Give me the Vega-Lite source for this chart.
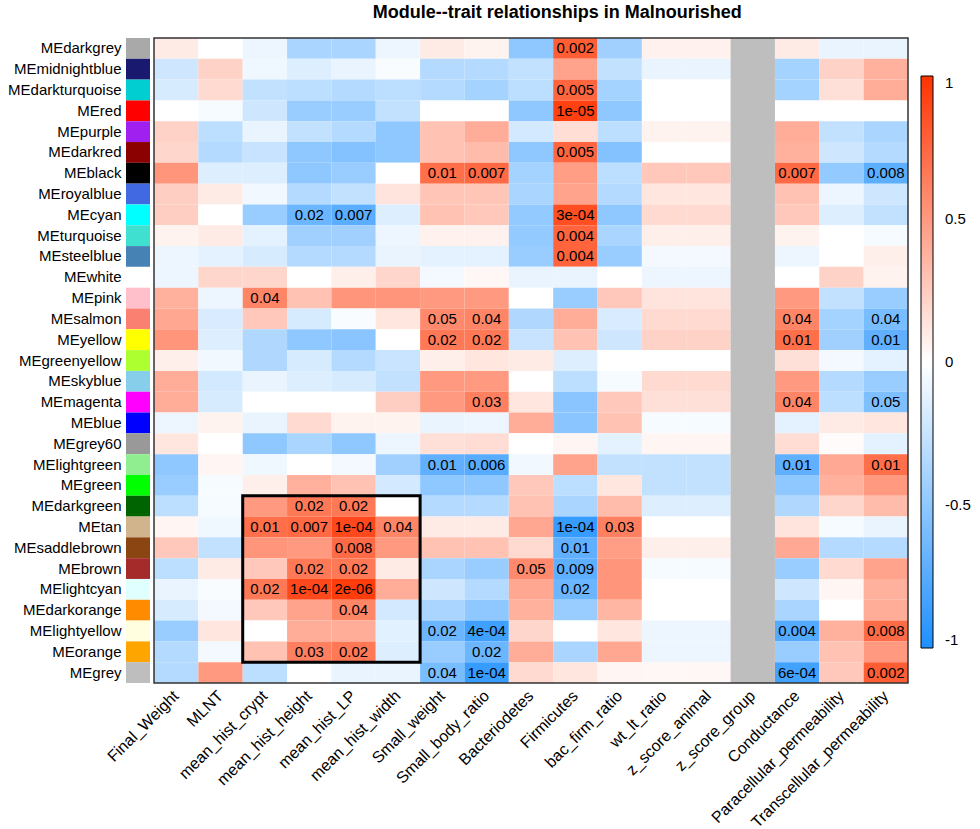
{
  "$schema": "https://vega.github.io/schema/vega-lite/v6.json",
  "padding": {"left": 7, "top": 4, "right": 5, "bottom": 5},
  "bounds": "flush",
  "title": {"text": "Module--trait relationships in Malnourished", "fontSize": 18, "fontWeight": "bold", "anchor": "middle", "offset": 15, "dx": 68, "color": "black", "font": "Liberation Sans"},
  "config": {"font": "Liberation Sans", "view": {"stroke": null}},
  "datasets": {
    "mat": [
      {"m":"MEdarkgrey","Final_Weight":0.1,"MLNT":0,"mean_hist_crypt":-0.08,"mean_hist_height":-0.38,"mean_hist_LP":-0.38,"mean_hist_width":-0.08,"Small_weight":0.1,"Small_body_ratio":0.06,"Bacteriodetes":-0.5,"Firmicutes":0.795,"bac_firm_ratio":-0.42,"wt_lt_ratio":0.07,"z_score_animal":0.07,"Conductance":0.1,"Paracellular_permeability":-0.1,"Transcellular_permeability":-0.1},
      {"m":"MEmidnightblue","Final_Weight":-0.22,"MLNT":0.22,"mean_hist_crypt":-0.07,"mean_hist_height":-0.15,"mean_hist_LP":-0.1,"mean_hist_width":-0.03,"Small_weight":-0.33,"Small_body_ratio":-0.33,"Bacteriodetes":-0.27,"Firmicutes":0.45,"bac_firm_ratio":-0.27,"wt_lt_ratio":-0.1,"z_score_animal":-0.1,"Conductance":-0.4,"Paracellular_permeability":0.22,"Transcellular_permeability":0.38},
      {"m":"MEdarkturquoise","Final_Weight":-0.18,"MLNT":0.18,"mean_hist_crypt":-0.27,"mean_hist_height":-0.3,"mean_hist_LP":-0.33,"mean_hist_width":-0.3,"Small_weight":-0.33,"Small_body_ratio":-0.4,"Bacteriodetes":-0.3,"Firmicutes":0.75,"bac_firm_ratio":-0.4,"wt_lt_ratio":0,"z_score_animal":0,"Conductance":-0.4,"Paracellular_permeability":0.15,"Transcellular_permeability":0.4},
      {"m":"MEred","Final_Weight":0,"MLNT":-0.04,"mean_hist_crypt":-0.22,"mean_hist_height":-0.45,"mean_hist_LP":-0.45,"mean_hist_width":-0.27,"Small_weight":0,"Small_body_ratio":0,"Bacteriodetes":-0.5,"Firmicutes":0.932,"bac_firm_ratio":-0.5,"wt_lt_ratio":0,"z_score_animal":0,"Conductance":0,"Paracellular_permeability":0,"Transcellular_permeability":0},
      {"m":"MEpurple","Final_Weight":0.22,"MLNT":-0.3,"mean_hist_crypt":-0.1,"mean_hist_height":-0.27,"mean_hist_LP":-0.33,"mean_hist_width":-0.5,"Small_weight":0.3,"Small_body_ratio":0.4,"Bacteriodetes":-0.2,"Firmicutes":0.16,"bac_firm_ratio":-0.3,"wt_lt_ratio":0.06,"z_score_animal":0.06,"Conductance":0.4,"Paracellular_permeability":-0.27,"Transcellular_permeability":-0.38},
      {"m":"MEdarkred","Final_Weight":0.2,"MLNT":-0.33,"mean_hist_crypt":-0.25,"mean_hist_height":-0.5,"mean_hist_LP":-0.55,"mean_hist_width":-0.5,"Small_weight":0.3,"Small_body_ratio":0.33,"Bacteriodetes":-0.5,"Firmicutes":0.75,"bac_firm_ratio":-0.55,"wt_lt_ratio":0,"z_score_animal":0,"Conductance":0.38,"Paracellular_permeability":-0.22,"Transcellular_permeability":-0.33},
      {"m":"MEblack","Final_Weight":0.52,"MLNT":-0.15,"mean_hist_crypt":-0.15,"mean_hist_height":-0.5,"mean_hist_LP":-0.45,"mean_hist_width":0,"Small_weight":0.708,"Small_body_ratio":0.735,"Bacteriodetes":-0.4,"Firmicutes":0.48,"bac_firm_ratio":-0.3,"wt_lt_ratio":0.27,"z_score_animal":0.27,"Conductance":0.735,"Paracellular_permeability":-0.48,"Transcellular_permeability":-0.725},
      {"m":"MEroyalblue","Final_Weight":0.24,"MLNT":0.1,"mean_hist_crypt":-0.06,"mean_hist_height":-0.33,"mean_hist_LP":-0.27,"mean_hist_width":0.13,"Small_weight":0.28,"Small_body_ratio":0.28,"Bacteriodetes":-0.38,"Firmicutes":0.45,"bac_firm_ratio":-0.33,"wt_lt_ratio":0.12,"z_score_animal":0.12,"Conductance":0.3,"Paracellular_permeability":-0.08,"Transcellular_permeability":-0.22},
      {"m":"MEcyan","Final_Weight":0.24,"MLNT":0,"mean_hist_crypt":-0.45,"mean_hist_height":-0.658,"mean_hist_LP":-0.735,"mean_hist_width":-0.15,"Small_weight":0.3,"Small_body_ratio":0.27,"Bacteriodetes":-0.48,"Firmicutes":0.863,"bac_firm_ratio":-0.5,"wt_lt_ratio":0.18,"z_score_animal":0.18,"Conductance":0.27,"Paracellular_permeability":-0.15,"Transcellular_permeability":-0.27},
      {"m":"MEturquoise","Final_Weight":0.06,"MLNT":0.1,"mean_hist_crypt":-0.12,"mean_hist_height":-0.42,"mean_hist_LP":-0.42,"mean_hist_width":-0.08,"Small_weight":0.07,"Small_body_ratio":0.07,"Bacteriodetes":-0.48,"Firmicutes":0.762,"bac_firm_ratio":-0.38,"wt_lt_ratio":0.08,"z_score_animal":0.08,"Conductance":0.06,"Paracellular_permeability":0,"Transcellular_permeability":-0.04},
      {"m":"MEsteelblue","Final_Weight":-0.08,"MLNT":-0.12,"mean_hist_crypt":-0.18,"mean_hist_height":-0.33,"mean_hist_LP":-0.33,"mean_hist_width":-0.1,"Small_weight":-0.12,"Small_body_ratio":-0.12,"Bacteriodetes":-0.45,"Firmicutes":0.762,"bac_firm_ratio":-0.45,"wt_lt_ratio":-0.05,"z_score_animal":-0.05,"Conductance":-0.08,"Paracellular_permeability":0,"Transcellular_permeability":0.08},
      {"m":"MEwhite","Final_Weight":-0.08,"MLNT":0.2,"mean_hist_crypt":0.2,"mean_hist_height":0,"mean_hist_LP":0.08,"mean_hist_width":0.2,"Small_weight":-0.05,"Small_body_ratio":0.04,"Bacteriodetes":-0.1,"Firmicutes":-0.1,"bac_firm_ratio":0,"wt_lt_ratio":-0.08,"z_score_animal":-0.08,"Conductance":0,"Paracellular_permeability":0.22,"Transcellular_permeability":0.06},
      {"m":"MEpink","Final_Weight":0.38,"MLNT":-0.08,"mean_hist_crypt":0.598,"mean_hist_height":0.3,"mean_hist_LP":0.52,"mean_hist_width":0.52,"Small_weight":0.5,"Small_body_ratio":0.5,"Bacteriodetes":0,"Firmicutes":-0.45,"bac_firm_ratio":0.27,"wt_lt_ratio":0.13,"z_score_animal":0.13,"Conductance":0.5,"Paracellular_permeability":-0.27,"Transcellular_permeability":-0.45},
      {"m":"MEsalmon","Final_Weight":0.43,"MLNT":-0.17,"mean_hist_crypt":0.27,"mean_hist_height":-0.18,"mean_hist_LP":-0.03,"mean_hist_width":0.12,"Small_weight":0.576,"Small_body_ratio":0.598,"Bacteriodetes":-0.35,"Firmicutes":0.4,"bac_firm_ratio":-0.17,"wt_lt_ratio":0.18,"z_score_animal":0.18,"Conductance":0.598,"Paracellular_permeability":-0.4,"Transcellular_permeability":-0.598},
      {"m":"MEyellow","Final_Weight":0.52,"MLNT":-0.15,"mean_hist_crypt":-0.35,"mean_hist_height":-0.5,"mean_hist_LP":-0.52,"mean_hist_width":0,"Small_weight":0.658,"Small_body_ratio":0.658,"Bacteriodetes":-0.25,"Firmicutes":0.3,"bac_firm_ratio":-0.22,"wt_lt_ratio":0.22,"z_score_animal":0.22,"Conductance":0.708,"Paracellular_permeability":-0.42,"Transcellular_permeability":-0.708},
      {"m":"MEgreenyellow","Final_Weight":0.08,"MLNT":-0.06,"mean_hist_crypt":-0.35,"mean_hist_height":-0.18,"mean_hist_LP":-0.33,"mean_hist_width":-0.24,"Small_weight":0.08,"Small_body_ratio":0.12,"Bacteriodetes":0.1,"Firmicutes":-0.15,"bac_firm_ratio":0,"wt_lt_ratio":0,"z_score_animal":0,"Conductance":0.15,"Paracellular_permeability":-0.05,"Transcellular_permeability":-0.12},
      {"m":"MEskyblue","Final_Weight":0.4,"MLNT":-0.2,"mean_hist_crypt":-0.1,"mean_hist_height":-0.15,"mean_hist_LP":-0.18,"mean_hist_width":-0.27,"Small_weight":0.5,"Small_body_ratio":0.5,"Bacteriodetes":0,"Firmicutes":-0.3,"bac_firm_ratio":-0.04,"wt_lt_ratio":0.18,"z_score_animal":0.18,"Conductance":0.5,"Paracellular_permeability":-0.33,"Transcellular_permeability":-0.45},
      {"m":"MEmagenta","Final_Weight":0.4,"MLNT":-0.18,"mean_hist_crypt":0,"mean_hist_height":0,"mean_hist_LP":0,"mean_hist_width":0.24,"Small_weight":0.5,"Small_body_ratio":0.624,"Bacteriodetes":0.12,"Firmicutes":-0.52,"bac_firm_ratio":0.27,"wt_lt_ratio":0.15,"z_score_animal":0.15,"Conductance":0.598,"Paracellular_permeability":-0.3,"Transcellular_permeability":-0.576},
      {"m":"MEblue","Final_Weight":-0.08,"MLNT":0.06,"mean_hist_crypt":-0.1,"mean_hist_height":0.18,"mean_hist_LP":0.06,"mean_hist_width":0.06,"Small_weight":-0.1,"Small_body_ratio":-0.08,"Bacteriodetes":0.4,"Firmicutes":-0.52,"bac_firm_ratio":0.3,"wt_lt_ratio":-0.04,"z_score_animal":-0.04,"Conductance":-0.12,"Paracellular_permeability":0.1,"Transcellular_permeability":0.12},
      {"m":"MEgrey60","Final_Weight":0.12,"MLNT":0,"mean_hist_crypt":-0.5,"mean_hist_height":-0.38,"mean_hist_LP":-0.5,"mean_hist_width":-0.08,"Small_weight":0.15,"Small_body_ratio":0.17,"Bacteriodetes":0,"Firmicutes":0.05,"bac_firm_ratio":-0.12,"wt_lt_ratio":0.05,"z_score_animal":0.05,"Conductance":0.17,"Paracellular_permeability":0.02,"Transcellular_permeability":-0.12},
      {"m":"MElightgreen","Final_Weight":-0.5,"MLNT":0.05,"mean_hist_crypt":-0.07,"mean_hist_height":0,"mean_hist_LP":-0.05,"mean_hist_width":-0.42,"Small_weight":-0.708,"Small_body_ratio":-0.746,"Bacteriodetes":-0.06,"Firmicutes":0.45,"bac_firm_ratio":-0.27,"wt_lt_ratio":-0.27,"z_score_animal":-0.27,"Conductance":-0.708,"Paracellular_permeability":0.42,"Transcellular_permeability":0.708},
      {"m":"MEgreen","Final_Weight":-0.45,"MLNT":-0.04,"mean_hist_crypt":0.08,"mean_hist_height":0.38,"mean_hist_LP":0.3,"mean_hist_width":-0.2,"Small_weight":-0.5,"Small_body_ratio":-0.5,"Bacteriodetes":0.27,"Firmicutes":-0.3,"bac_firm_ratio":0.12,"wt_lt_ratio":-0.27,"z_score_animal":-0.27,"Conductance":-0.5,"Paracellular_permeability":0.38,"Transcellular_permeability":0.5},
      {"m":"MEdarkgreen","Final_Weight":-0.3,"MLNT":-0.04,"mean_hist_crypt":0.5,"mean_hist_height":0.658,"mean_hist_LP":0.658,"mean_hist_width":0,"Small_weight":-0.33,"Small_body_ratio":-0.33,"Bacteriodetes":0.3,"Firmicutes":-0.38,"bac_firm_ratio":0.33,"wt_lt_ratio":-0.15,"z_score_animal":-0.15,"Conductance":-0.35,"Paracellular_permeability":0.2,"Transcellular_permeability":0.33},
      {"m":"MEtan","Final_Weight":0.05,"MLNT":-0.07,"mean_hist_crypt":0.708,"mean_hist_height":0.735,"mean_hist_LP":0.891,"mean_hist_width":0.598,"Small_weight":0.1,"Small_body_ratio":0.1,"Bacteriodetes":0.43,"Firmicutes":-0.891,"bac_firm_ratio":0.624,"wt_lt_ratio":0,"z_score_animal":0,"Conductance":0.13,"Paracellular_permeability":-0.04,"Transcellular_permeability":-0.1},
      {"m":"MEsaddlebrown","Final_Weight":0.27,"MLNT":-0.27,"mean_hist_crypt":0.52,"mean_hist_height":0.5,"mean_hist_LP":0.725,"mean_hist_width":0.5,"Small_weight":0.3,"Small_body_ratio":0.3,"Bacteriodetes":0.18,"Firmicutes":-0.708,"bac_firm_ratio":0.48,"wt_lt_ratio":0.08,"z_score_animal":0.08,"Conductance":0.42,"Paracellular_permeability":-0.33,"Transcellular_permeability":-0.33},
      {"m":"MEbrown","Final_Weight":-0.3,"MLNT":0.1,"mean_hist_crypt":0.27,"mean_hist_height":0.658,"mean_hist_LP":0.658,"mean_hist_width":0.1,"Small_weight":-0.38,"Small_body_ratio":-0.45,"Bacteriodetes":0.576,"Firmicutes":-0.717,"bac_firm_ratio":0.52,"wt_lt_ratio":-0.04,"z_score_animal":-0.04,"Conductance":-0.45,"Paracellular_permeability":0.18,"Transcellular_permeability":0.45},
      {"m":"MElightcyan","Final_Weight":-0.1,"MLNT":-0.03,"mean_hist_crypt":0.658,"mean_hist_height":0.891,"mean_hist_LP":0.951,"mean_hist_width":0.4,"Small_weight":-0.22,"Small_body_ratio":-0.33,"Bacteriodetes":0.43,"Firmicutes":-0.658,"bac_firm_ratio":0.52,"wt_lt_ratio":0,"z_score_animal":0,"Conductance":-0.22,"Paracellular_permeability":0.05,"Transcellular_permeability":0.38},
      {"m":"MEdarkorange","Final_Weight":-0.18,"MLNT":-0.05,"mean_hist_crypt":0.27,"mean_hist_height":0.45,"mean_hist_LP":0.598,"mean_hist_width":-0.2,"Small_weight":-0.38,"Small_body_ratio":-0.5,"Bacteriodetes":0.38,"Firmicutes":-0.45,"bac_firm_ratio":0.36,"wt_lt_ratio":0,"z_score_animal":0,"Conductance":-0.38,"Paracellular_permeability":0,"Transcellular_permeability":0.4},
      {"m":"MElightyellow","Final_Weight":-0.45,"MLNT":0.12,"mean_hist_crypt":0,"mean_hist_height":0.4,"mean_hist_LP":0.4,"mean_hist_width":-0.13,"Small_weight":-0.658,"Small_body_ratio":-0.854,"Bacteriodetes":0.2,"Firmicutes":0,"bac_firm_ratio":0.12,"wt_lt_ratio":-0.08,"z_score_animal":-0.08,"Conductance":-0.762,"Paracellular_permeability":0.38,"Transcellular_permeability":0.725},
      {"m":"MEorange","Final_Weight":-0.33,"MLNT":-0.05,"mean_hist_crypt":0.3,"mean_hist_height":0.624,"mean_hist_LP":0.658,"mean_hist_width":-0.15,"Small_weight":-0.45,"Small_body_ratio":-0.658,"Bacteriodetes":0.4,"Firmicutes":-0.38,"bac_firm_ratio":0.43,"wt_lt_ratio":-0.08,"z_score_animal":-0.08,"Conductance":-0.45,"Paracellular_permeability":0.3,"Transcellular_permeability":0.5},
      {"m":"MEgrey","Final_Weight":-0.33,"MLNT":0.5,"mean_hist_crypt":-0.3,"mean_hist_height":0,"mean_hist_LP":-0.1,"mean_hist_width":-0.1,"Small_weight":-0.598,"Small_body_ratio":-0.891,"Bacteriodetes":0.18,"Firmicutes":0.12,"bac_firm_ratio":0.05,"wt_lt_ratio":0.04,"z_score_animal":0.04,"Conductance":-0.84,"Paracellular_permeability":0.27,"Transcellular_permeability":0.795}
    ],
    "labels": [
      {"m":"MEdarkgrey","t":"Firmicutes","p":"0.002"},
      {"m":"MEdarkturquoise","t":"Firmicutes","p":"0.005"},
      {"m":"MEred","t":"Firmicutes","p":"1e-05"},
      {"m":"MEdarkred","t":"Firmicutes","p":"0.005"},
      {"m":"MEblack","t":"Small_weight","p":"0.01"},
      {"m":"MEblack","t":"Small_body_ratio","p":"0.007"},
      {"m":"MEblack","t":"Conductance","p":"0.007"},
      {"m":"MEblack","t":"Transcellular_permeability","p":"0.008"},
      {"m":"MEcyan","t":"mean_hist_height","p":"0.02"},
      {"m":"MEcyan","t":"mean_hist_LP","p":"0.007"},
      {"m":"MEcyan","t":"Firmicutes","p":"3e-04"},
      {"m":"MEturquoise","t":"Firmicutes","p":"0.004"},
      {"m":"MEsteelblue","t":"Firmicutes","p":"0.004"},
      {"m":"MEpink","t":"mean_hist_crypt","p":"0.04"},
      {"m":"MEsalmon","t":"Small_weight","p":"0.05"},
      {"m":"MEsalmon","t":"Small_body_ratio","p":"0.04"},
      {"m":"MEsalmon","t":"Conductance","p":"0.04"},
      {"m":"MEsalmon","t":"Transcellular_permeability","p":"0.04"},
      {"m":"MEyellow","t":"Small_weight","p":"0.02"},
      {"m":"MEyellow","t":"Small_body_ratio","p":"0.02"},
      {"m":"MEyellow","t":"Conductance","p":"0.01"},
      {"m":"MEyellow","t":"Transcellular_permeability","p":"0.01"},
      {"m":"MEmagenta","t":"Small_body_ratio","p":"0.03"},
      {"m":"MEmagenta","t":"Conductance","p":"0.04"},
      {"m":"MEmagenta","t":"Transcellular_permeability","p":"0.05"},
      {"m":"MElightgreen","t":"Small_weight","p":"0.01"},
      {"m":"MElightgreen","t":"Small_body_ratio","p":"0.006"},
      {"m":"MElightgreen","t":"Conductance","p":"0.01"},
      {"m":"MElightgreen","t":"Transcellular_permeability","p":"0.01"},
      {"m":"MEdarkgreen","t":"mean_hist_height","p":"0.02"},
      {"m":"MEdarkgreen","t":"mean_hist_LP","p":"0.02"},
      {"m":"MEtan","t":"mean_hist_crypt","p":"0.01"},
      {"m":"MEtan","t":"mean_hist_height","p":"0.007"},
      {"m":"MEtan","t":"mean_hist_LP","p":"1e-04"},
      {"m":"MEtan","t":"mean_hist_width","p":"0.04"},
      {"m":"MEtan","t":"Firmicutes","p":"1e-04"},
      {"m":"MEtan","t":"bac_firm_ratio","p":"0.03"},
      {"m":"MEsaddlebrown","t":"mean_hist_LP","p":"0.008"},
      {"m":"MEsaddlebrown","t":"Firmicutes","p":"0.01"},
      {"m":"MEbrown","t":"mean_hist_height","p":"0.02"},
      {"m":"MEbrown","t":"mean_hist_LP","p":"0.02"},
      {"m":"MEbrown","t":"Bacteriodetes","p":"0.05"},
      {"m":"MEbrown","t":"Firmicutes","p":"0.009"},
      {"m":"MElightcyan","t":"mean_hist_crypt","p":"0.02"},
      {"m":"MElightcyan","t":"mean_hist_height","p":"1e-04"},
      {"m":"MElightcyan","t":"mean_hist_LP","p":"2e-06"},
      {"m":"MElightcyan","t":"Firmicutes","p":"0.02"},
      {"m":"MEdarkorange","t":"mean_hist_LP","p":"0.04"},
      {"m":"MElightyellow","t":"Small_weight","p":"0.02"},
      {"m":"MElightyellow","t":"Small_body_ratio","p":"4e-04"},
      {"m":"MElightyellow","t":"Conductance","p":"0.004"},
      {"m":"MElightyellow","t":"Transcellular_permeability","p":"0.008"},
      {"m":"MEorange","t":"mean_hist_height","p":"0.03"},
      {"m":"MEorange","t":"mean_hist_LP","p":"0.02"},
      {"m":"MEorange","t":"Small_body_ratio","p":"0.02"},
      {"m":"MEgrey","t":"Small_weight","p":"0.04"},
      {"m":"MEgrey","t":"Small_body_ratio","p":"1e-04"},
      {"m":"MEgrey","t":"Conductance","p":"6e-04"},
      {"m":"MEgrey","t":"Transcellular_permeability","p":"0.002"}
    ],
    "box": [{"x1":"mean_hist_crypt","x2":"mean_hist_width","y1":"MEdarkgreen","y2":"MEorange"}]
  },
  "resolve": {"scale": {"color": "independent"}, "legend": {"color": "independent"}},
  "spacing": 4,
  "hconcat": [
    {
      "width": 24,
      "height": 645,
      "data": {"name": "mat"},
      "mark": {"type": "rect"},
      "encoding": {
        "y": {"field": "m", "type": "nominal", "sort": null,
          "scale": {"domain": ["MEdarkgrey","MEmidnightblue","MEdarkturquoise","MEred","MEpurple","MEdarkred","MEblack","MEroyalblue","MEcyan","MEturquoise","MEsteelblue","MEwhite","MEpink","MEsalmon","MEyellow","MEgreenyellow","MEskyblue","MEmagenta","MEblue","MEgrey60","MElightgreen","MEgreen","MEdarkgreen","MEtan","MEsaddlebrown","MEbrown","MElightcyan","MEdarkorange","MElightyellow","MEorange","MEgrey"], "paddingInner": 0, "paddingOuter": 0},
          "axis": {"title": null, "ticks": false, "domain": false, "labelFontSize": 15, "labelPadding": 5, "labelColor": "black", "labelLimit": 0}},
        "color": {"field": "m", "type": "nominal", "legend": null,
          "scale": {"domain": ["MEdarkgrey","MEmidnightblue","MEdarkturquoise","MEred","MEpurple","MEdarkred","MEblack","MEroyalblue","MEcyan","MEturquoise","MEsteelblue","MEwhite","MEpink","MEsalmon","MEyellow","MEgreenyellow","MEskyblue","MEmagenta","MEblue","MEgrey60","MElightgreen","MEgreen","MEdarkgreen","MEtan","MEsaddlebrown","MEbrown","MElightcyan","MEdarkorange","MElightyellow","MEorange","MEgrey"],
            "range": ["#A9A9A9","#191970","#00CED1","#FF0000","#A020F0","#8B0000","#000000","#4169E1","#00FFFF","#40E0D0","#4682B4","#FFFFFF","#FFC0CB","#FA8072","#FFFF00","#ADFF2F","#87CEEB","#FF00FF","#0000FF","#999999","#90EE90","#00FF00","#006400","#D2B48C","#8B4513","#A52A2A","#E0FFFF","#FF8C00","#FFFFE0","#FFA500","#BEBEBE"]}}
      }
    },
    {
      "width": 754,
      "height": 645,
      "layer": [
        {
          "data": {"name": "mat"},
          "transform": [
            {"fold": ["Final_Weight","MLNT","mean_hist_crypt","mean_hist_height","mean_hist_LP","mean_hist_width","Small_weight","Small_body_ratio","Bacteriodetes","Firmicutes","bac_firm_ratio","wt_lt_ratio","z_score_animal","Conductance","Paracellular_permeability","Transcellular_permeability"], "as": ["t", "v"]}
          ],
          "mark": {"type": "rect"},
          "encoding": {
            "x": {"field": "t", "type": "nominal", "sort": null,
              "scale": {"domain": ["Final_Weight","MLNT","mean_hist_crypt","mean_hist_height","mean_hist_LP","mean_hist_width","Small_weight","Small_body_ratio","Bacteriodetes","Firmicutes","bac_firm_ratio","wt_lt_ratio","z_score_animal","z_score_group","Conductance","Paracellular_permeability","Transcellular_permeability"], "paddingInner": 0, "paddingOuter": 0},
              "axis": {"orient": "bottom", "title": null, "ticks": false, "domain": false, "labelAngle": -45, "labelAlign": "right", "labelBaseline": "middle", "labelFontSize": 16, "labelPadding": 10, "labelColor": "black", "labelLimit": 0}},
            "y": {"field": "m", "type": "nominal", "sort": null,
              "scale": {"domain": ["MEdarkgrey","MEmidnightblue","MEdarkturquoise","MEred","MEpurple","MEdarkred","MEblack","MEroyalblue","MEcyan","MEturquoise","MEsteelblue","MEwhite","MEpink","MEsalmon","MEyellow","MEgreenyellow","MEskyblue","MEmagenta","MEblue","MEgrey60","MElightgreen","MEgreen","MEdarkgreen","MEtan","MEsaddlebrown","MEbrown","MElightcyan","MEdarkorange","MElightyellow","MEorange","MEgrey"], "paddingInner": 0, "paddingOuter": 0},
              "axis": null},
            "color": {"field": "v", "type": "quantitative",
              "scale": {"domain": [-1, 0, 1], "range": ["#1E90FF", "#FFFFFF", "#FF3300"], "interpolate": "rgb"},
              "legend": {"orient": "none", "legendX": 767, "legendY": 38, "direction": "vertical", "gradientLength": 572, "gradientThickness": 12, "title": null, "values": [-1, -0.5, 0, 0.5, 1], "labelExpr": "'' + datum.value", "labelFontSize": 15, "labelColor": "black", "labelOffset": 12, "labelBaseline": "middle", "gradientStrokeColor": "black", "gradientStrokeWidth": 1, "padding": 0}}
          }
        },
        {
          "data": {"values": [{}]},
          "mark": {"type": "rect", "color": "#BEBEBE"},
          "encoding": {"x": {"datum": "z_score_group", "type": "nominal"}}
        },
        {
          "data": {"name": "labels"},
          "mark": {"type": "text", "fontSize": 15, "color": "black"},
          "encoding": {
            "x": {"field": "t", "type": "nominal"},
            "y": {"field": "m", "type": "nominal", "axis": null},
            "text": {"field": "p", "type": "nominal"}
          }
        },
        {
          "data": {"name": "box"},
          "mark": {"type": "rect", "fill": null, "stroke": "black", "strokeWidth": 3},
          "encoding": {
            "x": {"field": "x1", "type": "nominal", "bandPosition": 0},
            "x2": {"field": "x2", "bandPosition": 1},
            "y": {"field": "y1", "type": "nominal", "bandPosition": 0, "axis": null},
            "y2": {"field": "y2", "bandPosition": 1}
          }
        },
        {
          "data": {"values": [{}]},
          "mark": {"type": "rect", "fill": null, "stroke": "#333333", "strokeWidth": 1.5},
          "encoding": {}
        }
      ]
    }
  ]
}
